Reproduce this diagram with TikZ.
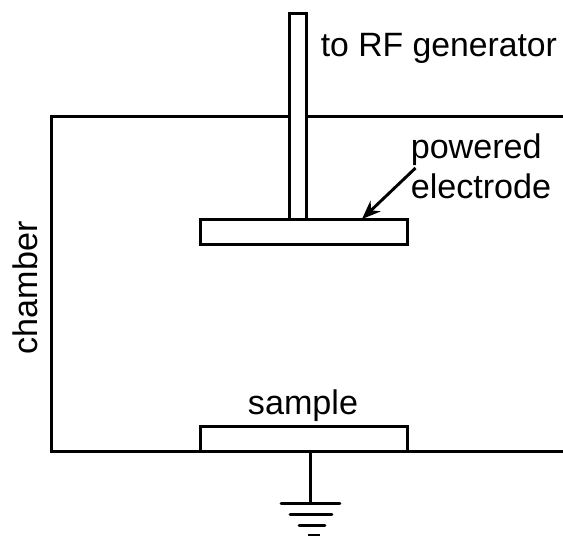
\documentclass[tikz,border=0pt]{standalone}
\usepackage{fontspec}
\setmainfont{Liberation Sans}
\usetikzlibrary{arrows.meta}
\newdimen\unit \unit=0.75pt
\tikzset{ln/.style={line width=2.2pt,draw=black},
 lab/.style={font=\fontsize{25.6}{28}\selectfont,inner sep=0pt,text=black},
 plate/.style={ln,fill=white,minimum width=207\unit,minimum height=25\unit,inner sep=0pt,outer sep=0pt,anchor=north west}}
\begin{document}
\begin{tikzpicture}[x=0.75pt,y=-0.75pt]
\useasboundingbox (0,0) rectangle (563,535);
\coordinate (tl) at (563,116.5); \coordinate (cnw) at (51.5,116.5); \coordinate (csw) at (51.5,451.5); \coordinate (br) at (563,451.5);
\draw[ln] (tl) -- (cnw) -- (csw) -- (br);
\node[plate] (pe) at (200.5,219.5) {};
\node[plate] (sa) at (200.5,426.5) {};
\draw[ln,fill=white] (289.5,13.5) rectangle (306.5,219);
\coordinate (g) at (310.5,503);
\draw[ln] (310.5,452) -- (g);
\coordinate (g1a) at (281,503.5); \coordinate (g1b) at (340,503.5);
\coordinate (g2a) at (290,514.5); \coordinate (g2b) at (332,514.5);
\coordinate (g3a) at (299,525.5); \coordinate (g3b) at (325,525.5);
\coordinate (g4a) at (308,535); \coordinate (g4b) at (320,535);
\draw[ln,line cap=round] (g1a) -- (g1b); \draw[ln,line cap=round] (g2a) -- (g2b); \draw[ln,line cap=round] (g3a) -- (g3b); \draw[ln] (g4a) -- (g4b);
\node[lab,anchor=base west,font=\fontsize{25.3}{28}\selectfont] (rf) at (320.5,56) {to RF generator};
\node[lab,anchor=base west] (p1) at (410.5,158.5) {powered};
\node[lab,anchor=base west] (p2) at (410.5,198) {electrode};
\node[lab,anchor=base] (s) at (303,414) {sample};
\node[lab,anchor=base,rotate=90] (c) at (37,288) {chamber};
\coordinate (as) at (415.5,168);
\draw[ln,-{Stealth[length=14pt,width=11pt]}] (as) -- (362,219);
\end{tikzpicture}
\end{document}
